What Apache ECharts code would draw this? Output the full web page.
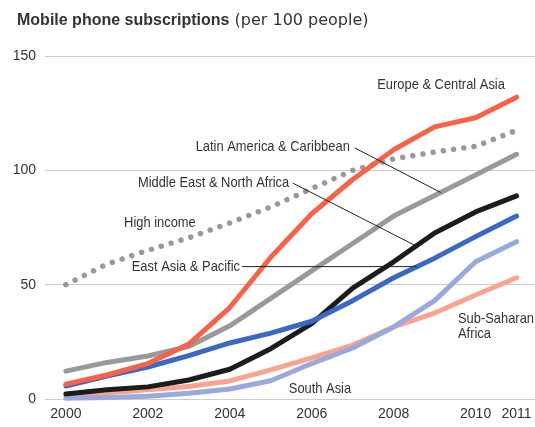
<!DOCTYPE html>
<html><head><meta charset="utf-8">
<script src="https://cdn.jsdelivr.net/npm/echarts@6/dist/echarts.min.js"></script>
<style>html,body{margin:0;padding:0;background:#fff}#c{width:535px;height:427px}</style>
</head><body><div id="c"></div>
<script>
// ---- data ----
const years = [2000,2001,2002,2003,2004,2005,2006,2007,2008,2009,2010,2011];
const europeCentralAsia = [6.5,10.5,15.5,24,40,62,81,96,109,119,123,132];
const latinAmericaCaribbean = [12.2,16,18.8,23,32,44,56,68,80,89,98,107];
const highIncome = [50,59,65,70.5,77,84,92,100,105,108,110.5,117.5];
const middleEastNorthAfrica = [2.2,4,5.3,8.3,13,22,33,48.5,60,72.6,81.8,88.8];
const eastAsiaPacific = [5.7,10,14,19,24.5,28.8,34,43,53,61.6,71,80];
const southAsia = [0.3,0.7,1.2,2.5,4.4,8,15.5,22.3,31.5,43,60,68.8];
const subSaharanAfrica = [1.5,2.7,4,5.5,7.9,12.7,18,23.6,31.5,37.6,45.5,53];
const xTickLabels = [2000,2002,2004,2006,2008,2010,2011];
const yTickLabels = [0,50,100,150];

// ---- layout / style ----
const labelFont = '15px "Liberation Sans", Arial, sans-serif';
const labelSqueeze = 0.86;
const annotations = [
  {text:'Europe & Central Asia', at:[2010.715,137.3], align:'right'},
  {text:'Latin America & Caribbean', at:[2006.93,110.3], align:'right'},
  {text:'Middle East & North Africa', at:[2005.45,94.5], align:'right'},
  {text:'High income', at:[2003.17,77.1], align:'right'},
  {text:'East Asia & Pacific', at:[2004.25,57.9], align:'right'},
  {text:'South Asia', at:[2005.44,4.6], align:'left'},
  {text:'Sub-Saharan\nAfrica', at:[2009.57,31.6], align:'left'}
];
const leaders = [
  [[2007.05,109.8],[2009.15,90.3]],
  [[2005.54,94.4],[2008.54,67.0]],
  [[2004.3,57.9],[2008.56,57.9]]
];

function pairs(v){ return years.map((y,i)=>[y,v[i]]); }
function mk(name, data, color, extra){
  return Object.assign({
    name, type:'line', data:pairs(data), symbol:'none', silent:true, animation:false,
    lineStyle:{color, width:5, cap:'round', join:'round'}
  }, extra||{});
}

const chart = echarts.init(document.getElementById('c'), null, {renderer:'canvas'});
chart.setOption({
  animation:false,
  title:{
    left:12, top:8,
    text:'{b|Mobile phone subscriptions}{n| (per 100 people)}',
    textStyle:{rich:{
      b:{fontFamily:'"Liberation Sans", Arial, sans-serif', fontWeight:'bold', fontSize:16, color:'#333'},
      n:{fontFamily:'"DejaVu Sans", sans-serif', fontWeight:'normal', fontSize:16, color:'#333'}
    }}
  },
  grid:{left:45, right:0, top:56, bottom:28},
  xAxis:{
    type:'value', min:1999.49, max:2011.45,
    axisLine:{show:false}, axisTick:{show:false}, splitLine:{show:false},
    axisLabel:{customValues:xTickLabels, formatter:v=>String(v), color:'#333', fontSize:14,
      fontFamily:'"Liberation Sans", Arial, sans-serif', margin:8}
  },
  yAxis:{
    type:'value', min:0, max:150, interval:50,
    axisLine:{show:false}, axisTick:{show:false},
    splitLine:{lineStyle:{color:'#cccccc', width:1}},
    axisLabel:{color:'#333', fontSize:14, fontFamily:'"Liberation Sans", Arial, sans-serif', margin:9,
      formatter:v=>yTickLabels.includes(v)?String(v):''}
  },
  series:[
    mk('High income', highIncome, '#999999', {lineStyle:{color:'#999999', width:5.5, cap:'round', type:[0.01,10.3]}}),
    mk('Sub-Saharan Africa', subSaharanAfrica, '#f9a48e'),
    mk('South Asia', southAsia, '#9aa9dc'),
    mk('Middle East & North Africa', middleEastNorthAfrica, '#1c1c1c'),
    mk('East Asia & Pacific', eastAsiaPacific, '#3b68c2'),
    mk('Latin America & Caribbean', latinAmericaCaribbean, '#999999'),
    mk('Europe & Central Asia', europeCentralAsia, '#f6634a')
  ]
});

function px(p){ return chart.convertToPixel({gridIndex:0}, p); }
const g = [];
annotations.forEach(a=>{
  const p = px(a.at);
  g.push({type:'text', silent:true, z:100, x:p[0], y:p[1], scaleX:labelSqueeze, style:{
    text:a.text, x:0, y:0, font:labelFont, fill:'#333',
    textAlign:a.align, align:a.align, textVerticalAlign:'middle', verticalAlign:'middle', lineHeight:15
  }});
});
leaders.forEach(l=>{
  const a = px(l[0]), b = px(l[1]);
  g.push({type:'line', silent:true, z:100, shape:{x1:a[0],y1:a[1],x2:b[0],y2:b[1]},
    style:{stroke:'#222', lineWidth:1}});
});
chart.setOption({graphic:g});
</script>
</body></html>
